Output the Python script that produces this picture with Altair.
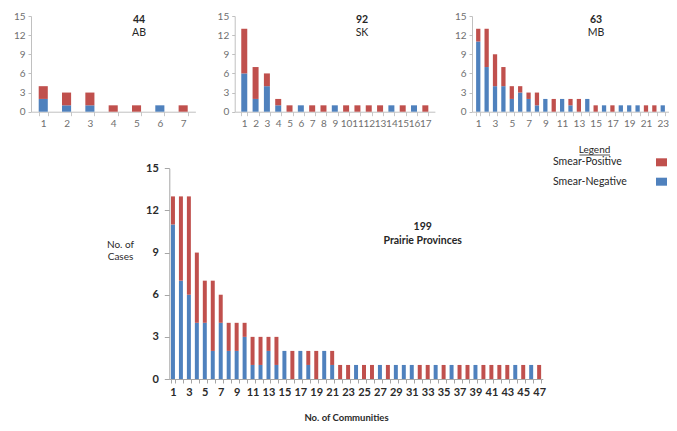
import altair as alt
import pandas as pd

FONT = "Lato"
RED = "#C0504D"
BLUE = "#4F81BD"

series_names = ["Smear-Positive", "Smear-Negative"]
series_colors = [RED, BLUE]

# Panel annotations
panel_names = ["AB", "SK", "MB", "Prairie Provinces"]
panel_totals = ["44", "92", "63", "199"]

# Cases per community (Smear-Negative stacked at the bottom, Smear-Positive on top)
ab_negative = [2, 1, 1, 0, 0, 1, 0]
ab_positive = [2, 2, 2, 1, 1, 0, 1]

sk_negative = [6, 2, 4, 1, 0, 1, 0, 0, 1, 0, 0, 0, 0, 1, 0, 1, 0]
sk_positive = [7, 5, 2, 1, 1, 0, 1, 1, 0, 1, 1, 1, 1, 0, 1, 0, 1]

mb_negative = [11, 7, 4, 4, 2, 3, 2, 1, 2, 0, 2, 1, 0, 2, 0, 1, 0, 1, 1, 1, 0, 0, 1]
mb_positive = [2, 6, 5, 3, 2, 1, 1, 2, 0, 2, 0, 1, 2, 0, 1, 0, 1, 0, 0, 0, 1, 1, 0]

pp_negative = [11, 7, 6, 4, 4, 2, 4, 2, 2, 3, 1, 1, 2, 1, 2, 0, 2, 1, 0, 2, 1,
               0, 0, 1, 0, 0, 1, 0, 1, 1, 1, 0, 0, 1, 0, 1, 0, 0, 1, 0, 0, 0, 0, 1, 0, 1, 0]
pp_positive = [2, 6, 7, 5, 3, 5, 2, 2, 2, 1, 2, 2, 1, 2, 0, 2, 0, 1, 2, 0, 1,
               1, 1, 0, 1, 1, 0, 1, 0, 0, 0, 1, 1, 0, 1, 0, 1, 1, 0, 1, 1, 1, 1, 0, 1, 0, 1]

y_ticks = [0, 3, 6, 9, 12, 15]

W, H = 661, 415
ODD_ONLY = "datum.value % 2 == 1 ? datum.label : ''"


def long_df(neg, pos):
    rows = []
    for i, (n, p) in enumerate(zip(neg, pos), start=1):
        rows.append({"community": i, "type": series_names[1], "cases": n, "order": 0})
        rows.append({"community": i, "type": series_names[0], "cases": p, "order": 1})
    df = pd.DataFrame(rows)
    return df[df["cases"] > 0]


color_enc = alt.Color("type:N", scale=alt.Scale(domain=series_names, range=series_colors), legend=None)


def small_panel(neg, pos, x0, x1, pi, po, odd_only=False):
    df = long_df(neg, pos)
    extra = {"labelExpr": ODD_ONLY} if odd_only else {}
    x_axis = alt.Axis(title=None, orient="bottom", offset=103.7 - H, labelAngle=0,
                      labelFont=FONT, labelFontSize=10, labelColor="#6f6f6f",
                      tickBand="extent", tickSize=4, tickColor="#c8c8c8",
                      domainColor="#c0c0c0", labelPadding=3, labelOverlap=False,
                      labelFlush=False, grid=False, **extra)
    y_axis = alt.Axis(title=None, orient="left", offset=-x0, values=y_ticks,
                      labelFont=FONT, labelFontSize=10, labelColor="#6f6f6f",
                      tickSize=3, tickColor="#c0c0c0", domainColor="#c0c0c0",
                      labelPadding=3, grid=False, labelFlush=False)
    return alt.Chart(df).mark_bar().encode(
        x=alt.X("community:O", scale=alt.Scale(range=[x0, x1], paddingInner=pi, paddingOuter=po), axis=x_axis),
        y=alt.Y("cases:Q", stack="zero",
                scale=alt.Scale(domain=[0, 15], range=[103.7, 8], nice=False), axis=y_axis),
        color=color_enc,
        order=alt.Order("order:Q"),
    )


ab = small_panel(ab_negative, ab_positive, 23.0, 187.4, 0.61, 0.33)
sk = small_panel(sk_negative, sk_positive, 226.7, 426.9, 0.47, 0.58)
mb = small_panel(mb_negative, mb_positive, 464.0, 661.0, 0.49, 0.49, odd_only=True)

# Big Prairie Provinces chart
pp_df = long_df(pp_negative, pp_positive)
big_x0, big_x1 = 161.3, 534.8
big_x_axis = alt.Axis(title="No. of Communities", orient="bottom", offset=371 - H, labelAngle=0,
                      labelExpr=ODD_ONLY,
                      labelFont=FONT, labelFontSize=11, labelFontWeight="bold", labelColor="#2a2a2a",
                      tickBand="extent", tickSize=4, tickColor="#a6a6a6", domainColor="#a6a6a6",
                      labelPadding=3, labelOverlap=False, labelFlush=False, grid=False,
                      titleFont=FONT, titleFontSize=9.5, titleFontWeight="bold", titleColor="#2a2a2a",
                      titleX=338, titleY=38, titleBaseline="middle", titleAlign="center")
big_y_axis = alt.Axis(title=["No. of", "Cases"], orient="left", offset=-big_x0, values=y_ticks,
                      labelFont=FONT, labelFontSize=11, labelFontWeight="bold", labelColor="#2a2a2a",
                      tickSize=5, tickColor="#a6a6a6", domainColor="#a6a6a6", labelPadding=6,
                      grid=False, labelFlush=False,
                      titleFont=FONT, titleFontSize=10, titleFontWeight="normal", titleColor="#2a2a2a",
                      titleAngle=0, titleX=112 - big_x0, titleY=231, titleBaseline="top",
                      titleAlign="center", titleLineHeight=12.5)
big = alt.Chart(pp_df).mark_bar().encode(
    x=alt.X("community:O", scale=alt.Scale(range=[big_x0, big_x1], paddingInner=0.5, paddingOuter=0.21),
            axis=big_x_axis),
    y=alt.Y("cases:Q", stack="zero",
            scale=alt.Scale(domain=[0, 15], range=[371, 160.3], nice=False), axis=big_y_axis),
    color=color_enc,
    order=alt.Order("order:Q"),
)


def label(text, x, y, size, weight="normal", color="#262626", align="center"):
    return alt.Chart(pd.DataFrame({"t": [text]})).mark_text(
        font=FONT, fontSize=size, fontWeight=weight, color=color, align=align, baseline="middle"
    ).encode(x=alt.value(x), y=alt.value(y), text="t:N")


title_pos = [(131, 12, 24.7), (354, 12, 25), (588, 12, 25), (414.7, 218.7, 233)]
annotations = []
for i, (tx, ty1, ty2) in enumerate(title_pos):
    big_one = i == 3
    annotations.append(label(panel_totals[i], tx, ty1, 10.5, "bold"))
    annotations.append(label(panel_names[i], tx, ty2, 10.5, "bold" if big_one else "normal"))

# Legend
legend_layers = [
    label("Legend", 586.5, 141.5, 10, "normal", "#262626"),
    alt.Chart(pd.DataFrame({"t": ["Legend"]})).mark_rule(color="#262626", strokeWidth=0.8).encode(
        x=alt.value(571.5), x2=alt.value(602), y=alt.value(147), y2=alt.value(147)),
]
legend_rows = [154.3, 173.7]
for name, colr, ly in zip(series_names, series_colors, legend_rows):
    legend_layers.append(label(name, 545, ly, 10.5, "normal", "#262626", align="left"))
    legend_layers.append(
        alt.Chart(pd.DataFrame({"t": [name]})).mark_rect(color=colr).encode(
            x=alt.value(648), x2=alt.value(659), y=alt.value(ly - 4), y2=alt.value(ly + 4))
    )

chart = alt.layer(ab, sk, mb, big, *annotations, *legend_layers).resolve_scale(
    x="independent", y="independent"
).properties(
    width=W, height=H, autosize=alt.AutoSizeParams(type="none"), padding=0
).configure_view(stroke=None)

chart.save("out.html", embed_options={"renderer": "svg", "actions": False})
